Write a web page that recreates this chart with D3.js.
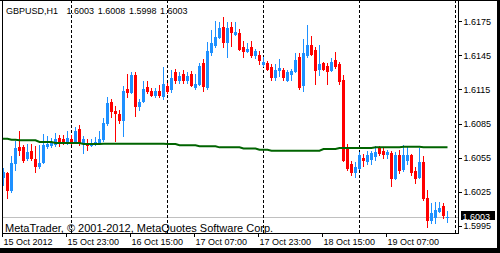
<!DOCTYPE html>
<html>
<head>
<meta charset="utf-8">
<script src="https://d3js.org/d3.v7.min.js"></script>
<style>
  body { margin: 0; background: #fff; }
  svg { display: block; font-family: "Liberation Sans", Arial, sans-serif; }
  .lbl { font-size: 9px; fill: #000; }
</style>
</head>
<body>
<svg id="chart" width="500" height="253"></svg>
<script>
// GBPUSD H1, 15 Oct 2012 07:00 .. 19 Oct 2012 22:00
var symbol = "GBPUSD,H1";

var opens = [
  1.6038, 1.6041, 1.6026, 1.6050, 1.6064, 1.6064, 1.6055, 1.6061, 1.6054, 1.6048,
  1.6051, 1.6065, 1.6066, 1.6067, 1.6072, 1.6071, 1.6068, 1.6071, 1.6070, 1.6080,
  1.6069, 1.6068, 1.6066, 1.6067, 1.6068, 1.6071, 1.6085, 1.6104, 1.6096, 1.6093,
  1.6088, 1.6115, 1.6113, 1.6128, 1.6100, 1.6105, 1.6117, 1.6114, 1.6110, 1.6114,
  1.6109, 1.6118, 1.6115, 1.6130, 1.6123, 1.6129, 1.6123, 1.6129, 1.6117, 1.6120,
  1.6138, 1.6117, 1.6148, 1.6154, 1.6161, 1.6170, 1.6157, 1.6170, 1.6164, 1.6165,
  1.6152, 1.6149, 1.6152, 1.6145, 1.6145, 1.6137, 1.6138, 1.6135, 1.6126, 1.6132,
  1.6132, 1.6123, 1.6129, 1.6131, 1.6144, 1.6119, 1.6145, 1.6154, 1.6150, 1.6133,
  1.6138, 1.6136, 1.6132, 1.6141, 1.6137, 1.6123, 1.6064, 1.6049, 1.6042, 1.6046,
  1.6055, 1.6052, 1.6054, 1.6056, 1.6063, 1.6061, 1.6058, 1.6059, 1.6037, 1.6057,
  1.6045, 1.6053, 1.6057, 1.6043, 1.6038, 1.6051, 1.6019, 1.6000, 1.6003, 1.6008,
  1.6012, 1.6003
];
var highs = [
  1.6046, 1.6042, 1.6056, 1.6070, 1.6078, 1.6066, 1.6067, 1.6067, 1.6065, 1.6066,
  1.6076, 1.6074, 1.6072, 1.6077, 1.6075, 1.6075, 1.6078, 1.6075, 1.6082, 1.6084,
  1.6074, 1.6071, 1.6071, 1.6073, 1.6078, 1.6090, 1.6108, 1.6107, 1.6100, 1.6097,
  1.6118, 1.6129, 1.6130, 1.6130, 1.6107, 1.6122, 1.6122, 1.6116, 1.6116, 1.6119,
  1.6135, 1.6121, 1.6132, 1.6133, 1.6130, 1.6132, 1.6130, 1.6131, 1.6129, 1.6138,
  1.6142, 1.6157, 1.6167, 1.6175, 1.6174, 1.6179, 1.6174, 1.6174, 1.6174, 1.6168,
  1.6158, 1.6156, 1.6158, 1.6151, 1.6149, 1.6144, 1.6140, 1.6137, 1.6137, 1.6142,
  1.6134, 1.6132, 1.6133, 1.6147, 1.6147, 1.6159, 1.6172, 1.6162, 1.6152, 1.6154,
  1.6139, 1.6138, 1.6143, 1.6148, 1.6139, 1.6128, 1.6067, 1.6052, 1.6051, 1.6060,
  1.6058, 1.6061, 1.6061, 1.6065, 1.6065, 1.6063, 1.6062, 1.6061, 1.6060, 1.6062,
  1.6066, 1.6065, 1.6058, 1.6047, 1.6063, 1.6056, 1.6026, 1.6015, 1.6016, 1.6016,
  1.6015, 1.6008
];
var lows = [
  1.6031, 1.6019, 1.6025, 1.6044, 1.6057, 1.6051, 1.6053, 1.6053, 1.6042, 1.6046,
  1.6050, 1.6063, 1.6064, 1.6065, 1.6065, 1.6067, 1.6067, 1.6067, 1.6068, 1.6066,
  1.6059, 1.6062, 1.6065, 1.6066, 1.6067, 1.6070, 1.6084, 1.6091, 1.6070, 1.6085,
  1.6074, 1.6108, 1.6112, 1.6092, 1.6097, 1.6104, 1.6112, 1.6109, 1.6108, 1.6108,
  1.6107, 1.6112, 1.6113, 1.6121, 1.6121, 1.6121, 1.6121, 1.6118, 1.6115, 1.6119,
  1.6114, 1.6115, 1.6145, 1.6152, 1.6160, 1.6152, 1.6144, 1.6153, 1.6163, 1.6150,
  1.6144, 1.6148, 1.6144, 1.6143, 1.6137, 1.6136, 1.6132, 1.6123, 1.6123, 1.6127,
  1.6123, 1.6122, 1.6123, 1.6130, 1.6115, 1.6114, 1.6144, 1.6145, 1.6120, 1.6128,
  1.6132, 1.6120, 1.6131, 1.6134, 1.6120, 1.6052, 1.6044, 1.6040, 1.6038, 1.6045,
  1.6048, 1.6049, 1.6049, 1.6053, 1.6057, 1.6055, 1.6055, 1.6030, 1.6036, 1.6041,
  1.6043, 1.6049, 1.6040, 1.6033, 1.6037, 1.6018, 1.5994, 1.5997, 1.5997, 1.6007,
  1.6002, 1.5998
];
var closes = [
  1.6042, 1.6026, 1.6050, 1.6063, 1.6062, 1.6053, 1.6060, 1.6055, 1.6048, 1.6050,
  1.6066, 1.6067, 1.6068, 1.6071, 1.6069, 1.6069, 1.6072, 1.6069, 1.6078, 1.6068,
  1.6071, 1.6066, 1.6068, 1.6069, 1.6071, 1.6085, 1.6103, 1.6096, 1.6094, 1.6088,
  1.6114, 1.6113, 1.6128, 1.6100, 1.6104, 1.6115, 1.6114, 1.6110, 1.6114, 1.6110,
  1.6120, 1.6114, 1.6125, 1.6123, 1.6127, 1.6123, 1.6127, 1.6119, 1.6120, 1.6136,
  1.6118, 1.6149, 1.6156, 1.6161, 1.6169, 1.6157, 1.6169, 1.6166, 1.6166, 1.6151,
  1.6149, 1.6151, 1.6145, 1.6149, 1.6141, 1.6139, 1.6133, 1.6126, 1.6132, 1.6134,
  1.6126, 1.6130, 1.6131, 1.6141, 1.6117, 1.6147, 1.6154, 1.6146, 1.6132, 1.6137,
  1.6133, 1.6131, 1.6139, 1.6136, 1.6122, 1.6053, 1.6046, 1.6042, 1.6047, 1.6057,
  1.6053, 1.6057, 1.6059, 1.6060, 1.6059, 1.6058, 1.6060, 1.6037, 1.6057, 1.6044,
  1.6057, 1.6057, 1.6042, 1.6037, 1.6051, 1.6019, 1.6000, 1.6006, 1.6009, 1.6011,
  1.6004, 1.6003
];
// moving average, one value per bar
var maValues = [
  1.60716, 1.60716, 1.60707, 1.60707, 1.60702, 1.60702, 1.60702, 1.60702, 1.60702, 1.60687,
  1.60687, 1.60687, 1.60687, 1.60678, 1.60678, 1.60678, 1.60678, 1.60678, 1.60678, 1.60678,
  1.60670, 1.60670, 1.60670, 1.60670, 1.60670, 1.60672, 1.60672, 1.60672, 1.60672, 1.60672,
  1.60672, 1.60672, 1.60672, 1.60672, 1.60672, 1.60672, 1.60672, 1.60672, 1.60672, 1.60672,
  1.60672, 1.60670, 1.60670, 1.60670, 1.60658, 1.60658, 1.60658, 1.60658, 1.60658, 1.60649,
  1.60649, 1.60649, 1.60649, 1.60649, 1.60640, 1.60640, 1.60640, 1.60640, 1.60640, 1.60640,
  1.60630, 1.60630, 1.60630, 1.60630, 1.60619, 1.60619, 1.60619, 1.60611, 1.60611, 1.60611,
  1.60611, 1.60611, 1.60611, 1.60611, 1.60611, 1.60611, 1.60611, 1.60611, 1.60611, 1.60611,
  1.60625, 1.60625, 1.60625, 1.60625, 1.60634, 1.60634, 1.60634, 1.60634, 1.60634, 1.60634,
  1.60634, 1.60634, 1.60634, 1.60640, 1.60640, 1.60640, 1.60640, 1.60640, 1.60640, 1.60640,
  1.60646, 1.60646, 1.60646, 1.60646, 1.60646, 1.60640, 1.60640, 1.60640, 1.60640, 1.60640,
  1.60640, 1.60640
];

var priceTicks = [1.6175, 1.6145, 1.6115, 1.6085, 1.6055, 1.6025, 1.5995];
var timeTickBars = [0, 16, 32, 48, 64, 80, 96];
var timeTickLabels = ["15 Oct 2012", "15 Oct 23:00", "16 Oct 15:00", "17 Oct 07:00",
                      "17 Oct 23:00", "18 Oct 15:00", "19 Oct 07:00"];
var dayBreakBars = [17, 41, 65, 89, 113];
var copyright = "MetaTrader, \u00a9 2001-2012, MetaQuotes Software Corp.";

var W = 500, H = 253,
    plotL = 2, plotR = 458, plotT = 0, plotB = 233;

var svg = d3.select("#chart");

// bar index -> pixel centre, 4px per bar
var x = d3.scaleLinear().domain([0, 112]).range([3.5, 451.5]);
var y = d3.scaleLinear().domain([1.5995, 1.6175]).range([225.7, 21.3]);
function py(p) { return Math.round(y(p)); }

var last = opens.length - 1;
var bid = closes[last];
var fmt = d3.format(".4f");

svg.append("rect").attr("width", W).attr("height", H).attr("fill", "#fff");

svg.append("defs").append("clipPath").attr("id", "plot")
  .append("rect").attr("x", plotL + 1).attr("y", plotT)
  .attr("width", plotR - plotL - 1).attr("height", plotB - plotT);

var plot = svg.append("g").attr("clip-path", "url(#plot)");

// bid line
plot.append("line")
    .attr("x1", plotL).attr("x2", plotR)
    .attr("y1", py(bid) + 0.5).attr("y2", py(bid) + 0.5)
    .attr("stroke", "#c0c0c0").attr("stroke-width", 1);

// day separators
plot.selectAll("line.sep").data(dayBreakBars).enter().append("line")
    .attr("class", "sep")
    .attr("x1", function(d) { return x(d); })
    .attr("x2", function(d) { return x(d); })
    .attr("y1", plotT).attr("y2", plotB)
    .attr("stroke", "#000").attr("stroke-width", 1)
    .attr("stroke-dasharray", "3,2");

var bars = d3.range(opens.length);
var up = "#1e90ff", down = "#ff0000";
function col(i) { return closes[i] >= opens[i] ? up : down; }

var candles = plot.selectAll("g.c").data(bars).enter().append("g").attr("class", "c")
    .attr("shape-rendering", "crispEdges");

candles.append("rect")
    .attr("x", function(i) { return x(i) - 0.5; })
    .attr("width", 1)
    .attr("y", function(i) { return py(highs[i]); })
    .attr("height", function(i) { return py(lows[i]) - py(highs[i]) + 1; })
    .attr("fill", col);

candles.append("rect")
    .attr("x", function(i) { return x(i) - 1.5; })
    .attr("width", 3)
    .attr("y", function(i) { return py(Math.max(opens[i], closes[i])); })
    .attr("height", function(i) { return Math.max(1, py(Math.min(opens[i], closes[i])) - py(Math.max(opens[i], closes[i])) + 1); })
    .attr("fill", col);

// moving average
var maPts = [[-1, maValues[0]]].concat(maValues.map(function(v, i) { return [i, v]; }));
plot.append("path")
    .datum(maPts)
    .attr("fill", "none")
    .attr("stroke", "#006400")
    .attr("stroke-width", 2)
    .attr("d", d3.line().x(function(d) { return x(d[0]); }).y(function(d) { return y(d[1]); }));

// frame
var frame = svg.append("g").attr("stroke", "#000").attr("shape-rendering", "crispEdges");
frame.append("line").attr("x1", 0).attr("x2", W).attr("y1", 0.5).attr("y2", 0.5);
frame.append("line").attr("x1", plotL + 0.5).attr("x2", plotL + 0.5).attr("y1", 0).attr("y2", plotB + 1);
frame.append("line").attr("x1", plotR + 0.5).attr("x2", plotR + 0.5).attr("y1", 0).attr("y2", plotB + 1);
frame.append("line").attr("x1", plotL).attr("x2", plotR + 1).attr("y1", plotB + 0.5).attr("y2", plotB + 0.5);

// price axis
var yAxis = svg.append("g")
    .attr("class", "lbl")
    .attr("transform", "translate(" + (plotR + 1) + ",0)")
    .call(d3.axisRight(y).tickValues(priceTicks).tickSize(3).tickPadding(1.5).tickFormat(fmt));
yAxis.select(".domain").remove();
yAxis.selectAll(".tick line").attr("stroke", "#000").attr("shape-rendering", "crispEdges");
yAxis.selectAll(".tick text").attr("font-size", 9).attr("font-family", null).attr("dy", "0.33em");

// time axis
var xAxis = svg.append("g")
    .attr("class", "lbl")
    .attr("transform", "translate(0," + (plotB + 1) + ")")
    .call(d3.axisBottom(x).tickValues(timeTickBars).tickSize(3)
      .tickFormat(function(d, i) { return timeTickLabels[i]; }));
xAxis.select(".domain").remove();
xAxis.selectAll(".tick line").attr("stroke", "#000").attr("transform", "translate(-1.5,0)")
    .attr("shape-rendering", "crispEdges");
xAxis.selectAll(".tick text").attr("font-size", 9).attr("font-family", null)
    .attr("text-anchor", "start").attr("x", -0.5).attr("y", 10.5).attr("dy", 0);

// bid label
svg.append("rect").attr("x", 461).attr("y", py(bid) - 6).attr("width", 34).attr("height", 9).attr("fill", "#000");
svg.append("text").attr("class", "lbl").attr("x", 462.5).attr("y", py(bid) + 2.5)
    .style("fill", "#fff").text(fmt(bid));

// title
var title = svg.append("text").attr("class", "lbl").attr("y", 14);
title.append("tspan").attr("x", 6).text(symbol);
[opens[last], highs[last], lows[last], closes[last]].forEach(function(v, k) {
  title.append("tspan").attr("x", 66.5 + k * 31.2).text(fmt(v));
});

// copyright
svg.append("text").attr("x", 5).attr("y", 232).attr("font-size", 11).attr("fill", "#000").text(copyright);

// outer window edge
svg.append("rect").attr("x", 497).attr("y", 0).attr("width", 3).attr("height", H).attr("fill", "#000");
svg.append("rect").attr("x", 0).attr("y", 248).attr("width", W).attr("height", 5).attr("fill", "#000");
</script>
</body>
</html>
